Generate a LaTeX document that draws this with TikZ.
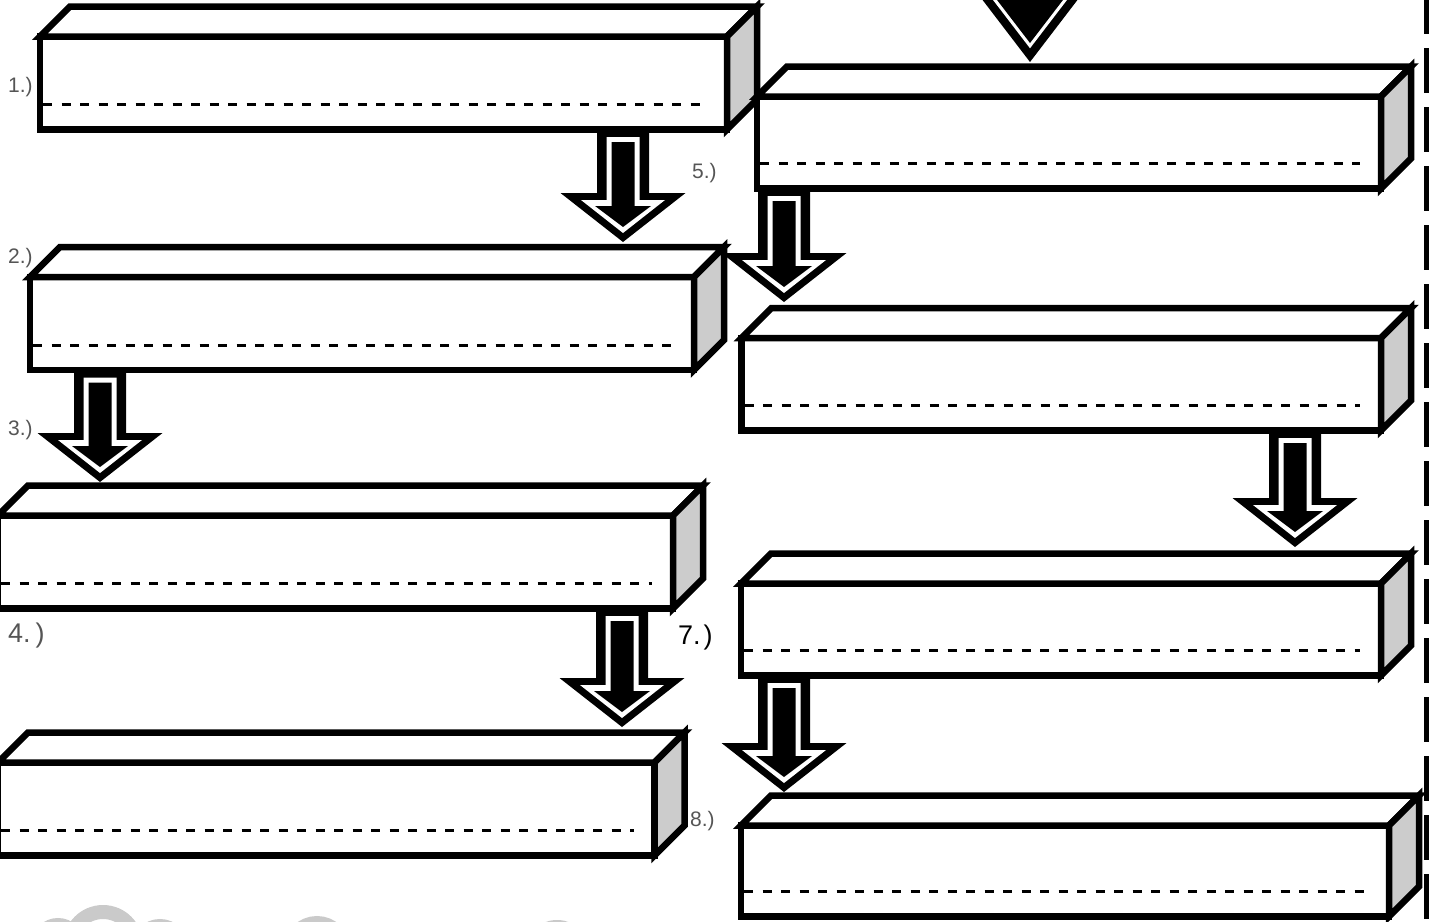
\documentclass[tikz,border=0pt]{standalone}
\usepackage{fontspec}
\setmainfont{Liberation Sans}
\usetikzlibrary{calc}
\definecolor{sideGray}{RGB}{204,204,204}
\definecolor{labelGray}{RGB}{85,85,85}
\definecolor{cloudGray}{RGB}{202,202,202}
\tikzset{
  prismfront/.style={
    rectangle, draw=black, fill=white,
    line width=6.5pt, inner sep=0pt, outer sep=0pt
  },
  prismtop/.style={draw=black, fill=white, line width=6.5pt},
  prismside/.style={draw=black, fill=sideGray, line width=6.5pt},
  prismrule/.style={draw=black, line width=3pt, dash pattern=on 9pt off 9.5pt},
  steplabel/.style={
    inner sep=0pt, anchor=base west, text=labelGray,
    font=\fontsize{21}{21}\selectfont
  },
  handlabel/.style={
    inner sep=0pt, anchor=base west, text=labelGray,
    font=\fontsize{27}{27}\selectfont
  },
  cloud/.style={draw=cloudGray, line width=14pt},
  % #1 = distance from the tip up to the bottom of the box above
  pics/blockarrow/.style={code={
    \fill[black] (-26,{-#1-10}) -- (-26,-49) -- (-62.5,-49) -- (0,0)
      -- (62.5,-49) -- (26,-49) -- (26,{-#1-10}) -- cycle;
    \fill[white] (-16.5,{-#1+7.5}) -- (-16.5,-42) -- (-42,-42) -- (0,-9)
      -- (42,-42) -- (16.5,-42) -- (16.5,{-#1+7.5}) -- cycle;
    \fill[black] (-11.5,{-#1+12.5}) -- (-11.5,-36) -- (-28,-36) -- (0,-15)
      -- (28,-36) -- (11.5,-36) -- (11.5,{-#1+12.5}) -- cycle;
  }}
}
% box: name, left x, top y, width, height
\newcommand{\prismbox}[5]{%
  \node[prismfront, minimum width=#4pt, minimum height=#5pt, anchor=north west] (#1) at (#2,#3) {};
  \draw[prismtop] (#1.north west) -- ++(30,-30) -- ++(#4,0) -- (#1.north east) -- cycle;
  \draw[prismside] (#1.north east) -- ++(30,-30) -- ++(0,#5) -- (#1.south east) -- cycle;
  \draw[prismrule] ([xshift=3pt,yshift=25pt]#1.south west) -- ([xshift=-21pt,yshift=25pt]#1.south east);
}

\begin{document}
\begin{tikzpicture}[x=1pt, y=-1pt]
  \useasboundingbox (0,0) rectangle (1429,921);
  \clip (0,0) rectangle (1429,921);

  % clouds at the bottom edge
  \draw[cloud] (58,945) circle[radius=20];
  \draw[cloud] (103,945) circle[radius=33];
  \draw[cloud] (160,948) circle[radius=22];
  \draw[cloud] (317,950) circle[radius=27];
  \draw[cloud] (557,955) circle[radius=28];

  % incoming arrow head (top)
  \fill[black] (952,-40) -- (1108,-40) -- (1030,62) -- cycle;
  \fill[white] (962.4,-40) -- (1097.6,-40) -- (1030,48.3) -- cycle;
  \fill[black] (966.4,-40) -- (1093.6,-40) -- (1030,43) -- cycle;

  % arrows between steps (drawn under the boxes)
  \pic at (623,242) {blockarrow=112.5};
  \pic at (100,482) {blockarrow=112};
  \pic at (622,727) {blockarrow=118.5};
  \pic at (784,302) {blockarrow=113.5};
  \pic at (1295,547) {blockarrow=116.5};
  \pic at (784,792) {blockarrow=116.5};

  % left column
  \prismbox{box1}{40}{36.5}{687}{93}
  \prismbox{box2}{30}{277}{664}{93}
  \prismbox{box3}{-2}{515.5}{675}{93}
  \prismbox{box4}{-2}{762.5}{656.5}{93}

  % right column
  \prismbox{box5}{757}{96.5}{624}{92}
  \prismbox{box6}{741.5}{338}{639.5}{92.5}
  \prismbox{box7}{741}{583.5}{640}{92}
  \prismbox{box8}{741}{825.5}{648}{91}

  % dashed edge on the right
  \draw[line width=5pt, dash pattern=on 45pt off 14pt] (1426,-11) -- (1426,930);

  % step numbers
  \node[steplabel] (l1) at (8,92) {1.)};
  \node[steplabel] (l2) at (8,263) {2.)};
  \node[steplabel] (l3) at (8,435) {3.)};
  \node[handlabel] (l4) at (8,642) {4.\kern5pt)};
  \node[steplabel] (l5) at (692,178) {5.)};
  \node[handlabel, text=black] (l7) at (678,644) {7.\kern3pt)};
  \node[steplabel] (l8) at (690,826) {8.)};
\end{tikzpicture}
\end{document}
